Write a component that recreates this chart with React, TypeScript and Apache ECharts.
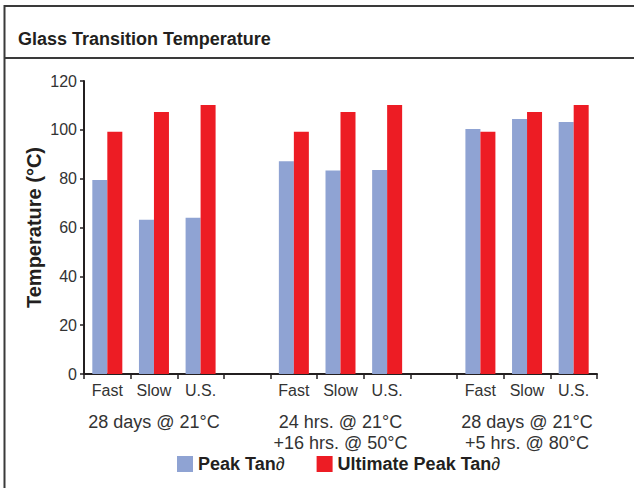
import React, { useEffect, useRef } from "react";
import * as echarts from "echarts";

const categories = ["Fast", "Slow", "U.S.", "", "Fast", "Slow", "U.S.", "", "Fast", "Slow", "U.S."];
const groupLabels = [
  "", "28 days @ 21°C", "", "", "",
  "24 hrs. @ 21°C\n+16 hrs. @ 50°C", "", "", "",
  "28 days @ 21°C\n+5 hrs. @ 80°C", "",
];
const peakTan = [79.5, 63.2, 64, null, 87.1, 83.3, 83.5, null, 100.3, 104.4, 103.2];
const ultimatePeakTan = [99.2, 107.3, 110.2, null, 99.2, 107.3, 110.2, null, 99.2, 107.3, 110.2];
const yTicks = { min: 0, max: 120, interval: 20 };
const titleText = "Glass Transition Temperature";
const yTitle = "Temperature (°C)";
const seriesNames = ["Peak Tan", "Ultimate Peak Tan"];

const FONT = "Liberation Sans, Arial, Helvetica, sans-serif";
const TEXT = "#333333";

export default function App() {
  const ref = useRef<HTMLDivElement>(null);
  useEffect(() => {
    if (!ref.current) return;
    const chart = echarts.init(ref.current, null, { renderer: "svg" });
    chart.setOption({
      animation: false,
      textStyle: { fontFamily: FONT },
      graphic: [
        { type: "line", shape: { x1: 4, y1: 6, x2: 634, y2: 6 }, style: { stroke: "#3a3a3a", lineWidth: 2 } },
        { type: "line", shape: { x1: 4, y1: 58, x2: 634, y2: 58 }, style: { stroke: "#3a3a3a", lineWidth: 2 } },
        { type: "line", shape: { x1: 4.5, y1: 5, x2: 4.5, y2: 488 }, style: { stroke: "#3a3a3a", lineWidth: 2 } },
        {
          type: "text", left: 18, top: 30,
          style: { text: titleText, fontFamily: FONT, fontSize: 18, fontWeight: "bold", fill: "#231f20" },
        },
      ],
      legend: {
        bottom: 10,
        left: 172,
        itemWidth: 16,
        itemHeight: 16,
        itemGap: 32,
        icon: "rect",
        data: seriesNames,
        formatter: (n: string) => `{b|${n}}{d|∂}`,
        textStyle: {
          rich: {
            b: { fontFamily: FONT, fontSize: 18, fontWeight: "bold", color: "#231f20" },
            d: { fontFamily: FONT, fontSize: 18, fontStyle: "italic", color: "#231f20" },
          },
        },
      },
      grid: { left: 84, right: 37, top: 81, bottom: 114 },
      xAxis: [
        {
          type: "category",
          data: categories,
          axisLine: { lineStyle: { color: "#231f20", width: 2 } },
          axisTick: { show: true, length: 5, lineStyle: { color: "#231f20", width: 1.5 } },
          axisLabel: { interval: 0, color: TEXT, fontSize: 16, margin: 8 },
        },
        {
          type: "category",
          position: "bottom",
          data: groupLabels,
          axisLine: { show: false },
          axisTick: { show: false },
          axisLabel: { interval: 0, color: TEXT, fontSize: 18, margin: 37, lineHeight: 21, align: "center" },
        },
      ],
      yAxis: {
        type: "value",
        min: yTicks.min,
        max: yTicks.max,
        interval: yTicks.interval,
        name: yTitle,
        nameLocation: "middle",
        nameGap: 40,
        nameMoveOverlap: false,
        nameTextStyle: { fontSize: 20, fontWeight: "bold", color: "#231f20", fontFamily: FONT },
        splitLine: { show: false },
        axisLine: { show: true, lineStyle: { color: "#231f20", width: 2 } },
        axisTick: { show: true, length: 4, lineStyle: { color: "#231f20", width: 1.5 } },
        axisLabel: { color: TEXT, fontSize: 16, margin: 7 },
      },
      series: [
        {
          name: seriesNames[0],
          type: "bar",
          data: peakTan,
          barWidth: 15,
          barGap: "0%",
          itemStyle: { color: "#8fa3d3" },
        },
        {
          name: seriesNames[1],
          type: "bar",
          data: ultimatePeakTan,
          barWidth: 15,
          barGap: "0%",
          itemStyle: { color: "#ed1c24" },
        },
      ],
    });
    return () => chart.dispose();
  }, []);
  return <div ref={ref} style={{ position: "absolute", left: 0, top: 0, width: 634, height: 488 }} />;
}
